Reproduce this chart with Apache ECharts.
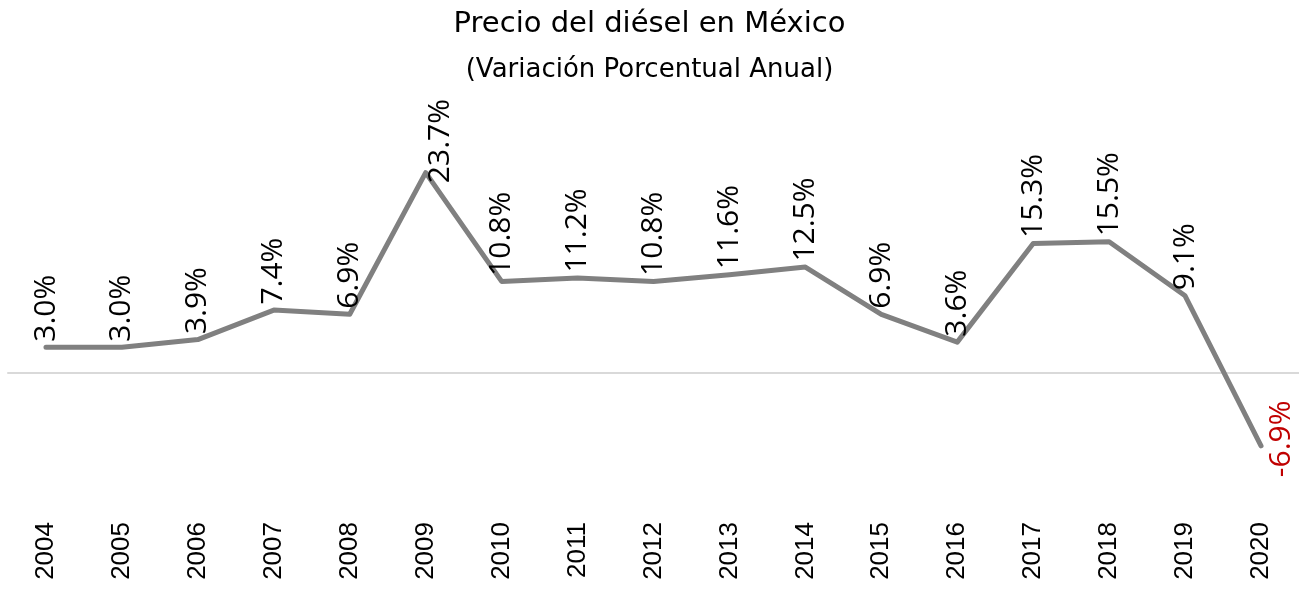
<!DOCTYPE html>
<html>
<head>
<meta charset="utf-8">
<script src="https://cdn.jsdelivr.net/npm/echarts@6/dist/echarts.min.js"></script>
<style>
html,body{margin:0;padding:0;background:#fff;}
#chart{width:1299px;height:590px;}
</style>
</head>
<body>
<div id="chart"></div>
<script>
var years = ['2004','2005','2006','2007','2008','2009','2010','2011','2012','2013','2014','2015','2016','2017','2018','2019','2020'];
var values = [3.0, 3.0, 3.9, 7.4, 6.9, 23.7, 10.8, 11.2, 10.8, 11.6, 12.5, 6.9, 3.6, 15.3, 15.5, 9.1, -8.7];
var labelTexts = ['3.0%','3.0%','3.9%','7.4%','6.9%','23.7%','10.8%','11.2%','10.8%','11.6%','12.5%','6.9%','3.6%','15.3%','15.5%','9.1%','-6.9%'];
var titleText = 'Precio del diésel en México';
var subtitleText = '(Variación Porcentual Anual)';

var chart = echarts.init(document.getElementById('chart'));

var maxVal = Math.max.apply(null, values);
var seriesData = values.map(function (v, i) {
  var item = { value: v };
  if (v < 0) {
    item.label = {
      position: 'right',
      distance: 5,
      align: 'center',
      verticalAlign: 'top',
      color: '#C00000',
      offset: [7, 0]
    };
  } else if (v === maxVal) {
    item.label = { offset: [-16, 15] };
  }
  return item;
});

chart.setOption({
  animation: false,
  backgroundColor: '#ffffff',
  title: [
    { text: titleText, left: 'center', top: 5,
      textStyle: { fontFamily: 'DejaVu Sans', fontSize: 29, fontWeight: 'normal', color: '#000' } },
    { text: subtitleText, left: 'center', top: 52,
      textStyle: { fontFamily: 'DejaVu Sans', fontSize: 26, fontWeight: 'normal', color: '#000' } }
  ],
  grid: { left: 8, right: 0, top: 90, bottom: 75, containLabel: false },
  xAxis: [
    {
      type: 'category', data: years, boundaryGap: true, position: 'bottom',
      axisLine: { show: false, onZero: false }, axisTick: { show: false },
      axisLabel: { rotate: 90, margin: 7, fontFamily: 'Liberation Sans', fontSize: 26, color: '#000' }
    },
    {
      type: 'category', data: years, boundaryGap: true, position: 'bottom',
      axisLine: { show: true, onZero: true, lineStyle: { color: '#d9d9d9', width: 2 } },
      axisTick: { show: false }, axisLabel: { show: false }
    }
  ],
  yAxis: {
    type: 'value', min: -16.9, max: 33.5, show: false,
    splitLine: { show: false }
  },
  series: [{
    type: 'line',
    xAxisIndex: 0,
    data: seriesData,
    symbol: 'circle',
    symbolSize: 1,
    showSymbol: true,
    itemStyle: { color: 'rgba(0,0,0,0)' },
    lineStyle: { color: '#808080', width: 5, cap: 'round', join: 'round' },
    label: {
      show: true,
      position: 'top',
      distance: 5,
      rotate: 90,
      align: 'left',
      verticalAlign: 'middle',
      fontFamily: 'Open Sans',
      fontSize: 30,
      color: '#000',
      formatter: function (p) { return labelTexts[p.dataIndex]; }
    }
  }]
});
</script>
</body>
</html>
